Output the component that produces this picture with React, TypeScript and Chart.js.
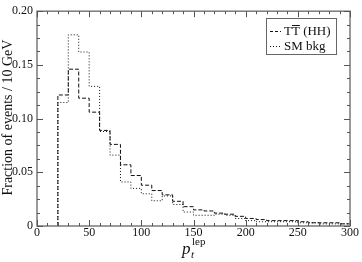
import React, { useEffect, useRef } from 'react';
import { Chart, registerables } from 'chart.js';

Chart.register(...registerables);

// Lower edges of the 10 GeV bins (GeV)
const binLowEdges = [20, 30, 40, 50, 60, 70, 80, 90, 100, 110, 120, 130, 140, 150, 160, 170, 180, 190, 200, 210, 220, 230, 240, 250, 260, 270, 280, 290];
const binTop = 300;
// T T̄ (HH) signal
const ttHH = [0.122, 0.146, 0.119, 0.106, 0.089, 0.076, 0.057, 0.047, 0.038, 0.033, 0.029, 0.023, 0.018, 0.015, 0.014, 0.012, 0.011, 0.009, 0.007, 0.006, 0.005, 0.005, 0.005, 0.004, 0.003, 0.003, 0.003, 0.002];
// SM background
const smBkg = [0.115, 0.178, 0.162, 0.130, 0.088, 0.066, 0.041, 0.035, 0.030, 0.0235, 0.028, 0.020, 0.013, 0.010, 0.010, 0.011, 0.010, 0.007, 0.005, 0.004, 0.004, 0.004, 0.004, 0.003, 0.003, 0.002, 0.002, 0.002];

const xTickValues = [0, 50, 100, 150, 200, 250, 300];
const yTickValues = [0, 0.05, 0.1, 0.15, 0.2];
const xMinorStep = 10;
const yMinorStep = 0.0125;

const legendLabels = ['TT (HH)', 'SM bkg'];
const yTitle = 'Fraction of events / 10 GeV';

const SERIF = '"Liberation Serif", "DejaVu Serif", serif';

function histPoints(values: number[]) {
  const pts = [{ x: binLowEdges[0], y: 0 }];
  binLowEdges.forEach((e, i) => pts.push({ x: e, y: values[i] }));
  pts.push({ x: binTop, y: values[values.length - 1] });
  return pts;
}

const framePlugin = {
  id: 'frame',
  afterDatasetsDraw(chart: any) {
    const { ctx, chartArea, scales } = chart;
    const { left, right, top, bottom } = chartArea;
    const x = scales.x;
    const y = scales.y;
    ctx.save();
    ctx.strokeStyle = '#7a7a7a';
    ctx.lineWidth = 1.5;
    ctx.strokeRect(left, top, right - left, bottom - top);
    ctx.lineWidth = 1;
    ctx.strokeStyle = '#555';
    const seg = (x1: number, y1: number, x2: number, y2: number) => {
      ctx.beginPath();
      ctx.moveTo(x1, y1);
      ctx.lineTo(x2, y2);
      ctx.stroke();
    };
    for (let v = 0; v <= 300 + 1e-9; v += xMinorStep) {
      const px = Math.round(x.getPixelForValue(v)) + 0.5;
      const len = xTickValues.includes(v) ? 6 : 3;
      seg(px, bottom, px, bottom - len);
      seg(px, top, px, top + len);
    }
    for (let i = 0; i * yMinorStep <= 0.2 + 1e-9; i++) {
      const v = i * yMinorStep;
      const py = Math.round(y.getPixelForValue(v)) + 0.5;
      const len = i % 4 === 0 ? 6 : 3;
      seg(left, py, left + len, py);
      seg(right, py, right - len, py);
    }

    // Legend
    ctx.fillStyle = '#fff';
    ctx.strokeStyle = '#666';
    ctx.lineWidth = 1;
    const lx = 266.5, ly = 18.5, lw = 70, lh = 36;
    ctx.fillRect(lx, ly, lw, lh);
    ctx.strokeRect(lx, ly, lw, lh);
    const rows = [31, 46];
    const dashes = [[3, 2], [1, 2]];
    ctx.strokeStyle = '#111';
    rows.forEach((ry, i) => {
      ctx.setLineDash(dashes[i]);
      seg(270, ry + 0.5, 281, ry + 0.5);
    });
    ctx.setLineDash([]);
    ctx.fillStyle = '#111';
    ctx.font = `13px ${SERIF}`;
    ctx.textBaseline = 'middle';
    ctx.textAlign = 'left';
    // first label: T T̄ (HH) with overline above second T
    const tx = 284;
    const label0 = legendLabels[0];
    const tW = ctx.measureText('T').width;
    ctx.fillText(label0, tx, rows[0] + 1);
    seg(tx + tW, rows[0] - 5.5, tx + 2 * tW, rows[0] - 5.5);
    ctx.fillText(legendLabels[1], tx, rows[1] + 1);

    // Y title
    ctx.save();
    ctx.translate(8, (top + bottom) / 2 - 1);
    ctx.rotate(-Math.PI / 2);
    ctx.textAlign = 'center';
    ctx.textBaseline = 'middle';
    ctx.font = `14px ${SERIF}`;
    ctx.fillText(yTitle, 0, 0);
    ctx.restore();

    // X title: p_t^lep
    ctx.textAlign = 'left';
    ctx.textBaseline = 'alphabetic';
    ctx.font = `italic 17px ${SERIF}`;
    ctx.fillText('p', 182, 254);
    ctx.font = `italic 11px ${SERIF}`;
    ctx.fillText('t', 191, 258);
    ctx.font = `11px ${SERIF}`;
    ctx.fillText('lep', 192, 245);
    ctx.restore();
  },
};

export default function App() {
  const ref = useRef<HTMLCanvasElement | null>(null);
  useEffect(() => {
    if (!ref.current) return;
    Chart.defaults.font.family = SERIF;
    const chart = new Chart(ref.current, {
      type: 'line',
      data: {
        datasets: [
          {
            label: legendLabels[0],
            data: histPoints(ttHH),
            stepped: 'before',
            borderColor: '#111',
            borderWidth: 1,
            borderDash: [4, 2],
            pointRadius: 0,
            fill: false,
          },
          {
            label: legendLabels[1],
            data: histPoints(smBkg),
            stepped: 'before',
            borderColor: '#111',
            borderWidth: 1,
            borderDash: [1, 2],
            pointRadius: 0,
            fill: false,
          },
        ],
      },
      options: {
        animation: false,
        responsive: false,
        layout: { padding: { top: 5, right: 12, left: 0, bottom: 0 } },
        plugins: { legend: { display: false }, tooltip: { enabled: false } },
        scales: {
          x: {
            type: 'linear',
            min: 0,
            max: 300,
            afterFit: (s: any) => { s.height = 36; },
            grid: { display: false, drawTicks: false },
            border: { display: false },
            ticks: {
              stepSize: 50,
              padding: 0,
              color: '#111',
              font: { size: 12, family: SERIF },
              maxRotation: 0,
            },
          },
          y: {
            type: 'linear',
            min: 0,
            max: 0.2,
            afterFit: (s: any) => { s.width = 37; },
            grid: { display: false, drawTicks: false },
            border: { display: false },
            ticks: {
              stepSize: 0.05,
              padding: 4,
              color: '#111',
              font: { size: 12, family: SERIF },
              callback: (v: any) => (Number(v) === 0 ? '0' : Number(v).toFixed(2)),
            },
          },
        },
      },
      plugins: [framePlugin],
    });
    return () => chart.destroy();
  }, []);
  return (
    <div style={{ position: 'absolute', left: 0, top: 0, width: 362, height: 262, background: '#fff' }}>
      <canvas ref={ref} width={362} height={262} />
    </div>
  );
}
